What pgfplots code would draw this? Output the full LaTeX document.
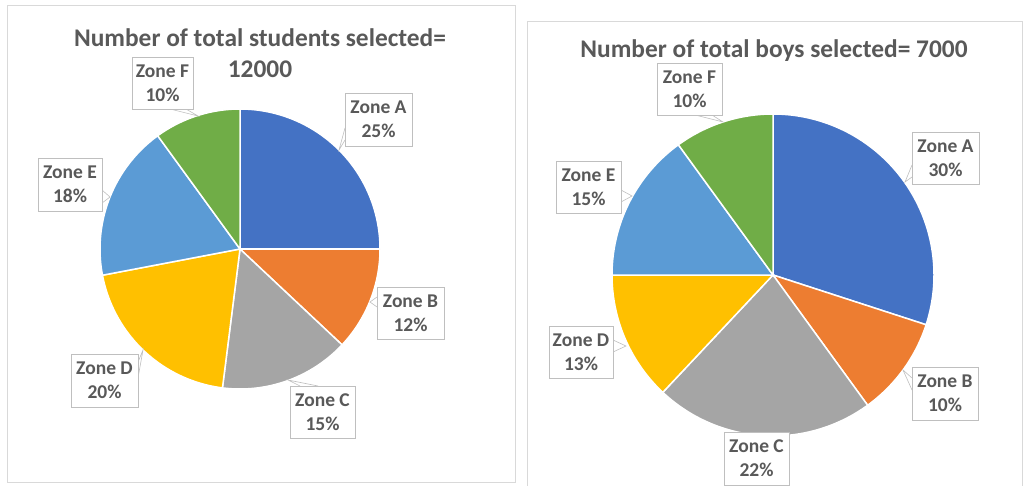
\documentclass[border=0pt]{standalone}
\usepackage{fontspec}
\setmainfont{Carlito}
\usepackage{pgfplots}
\pgfplotsset{compat=1.18}

\definecolor{zA}{HTML}{4472C4}
\definecolor{zB}{HTML}{ED7D31}
\definecolor{zC}{HTML}{A5A5A5}
\definecolor{zD}{HTML}{FFC000}
\definecolor{zE}{HTML}{5B9BD5}
\definecolor{zF}{HTML}{70AD47}
\definecolor{tc}{HTML}{595959}
\definecolor{frame}{HTML}{D9D9D9}
\definecolor{cb}{HTML}{BFBFBF}

% slice: centre x, centre y, radius, percent before, percent, colour
\newcommand{\slice}[6]{%
  \addplot[fill=#6, draw=white, line width=1.5pt, domain=90-3.6*(#4+#5):90-3.6*#4,
    samples=90, variable=\t]
    ({#1+#3*cos(\t)}, {#2-#3*sin(\t)}) -- (axis cs:#1,#2) -- cycle;}
% callout box: x1 y1 x2 y2 text
\newcommand{\lbl}[5]{%
  \draw[cb, fill=white, line width=0.8pt] (#1,#2) rectangle (#3,#4);
  \node[font=\fontsize{19.5}{24}\selectfont\bfseries, text=tc, align=center]
    at ({(#1+#3)/2},{(#2+#4)/2}) {#5};}
% callout pointer: base point, tip, base point
\newcommand{\ptr}[6]{%
  \draw[cb, fill=white, line width=0.6pt] (#1,#2) -- (#3,#4) -- (#5,#6);}

\begin{document}
\begin{tikzpicture}
\useasboundingbox (0,0) rectangle (1035pt,486pt);
\begin{axis}[
    at={(0,0)}, anchor=south west,
    width=1035pt, height=486pt, scale only axis,
    xmin=0, xmax=1035, ymin=0, ymax=486,
    y dir=reverse,
    hide axis,
]
% panels
\draw[frame, line width=0.8pt] (7,5) rectangle (515,482);
\draw[frame, line width=0.8pt] (527,21) rectangle (1022,495);

% total students = 12000
\slice{240}{249}{140}{0}{25}{zA}
\slice{240}{249}{140}{25}{12}{zB}
\slice{240}{249}{140}{37}{15}{zC}
\slice{240}{249}{140}{52}{20}{zD}
\slice{240}{249}{140}{72}{18}{zE}
\slice{240}{249}{140}{90}{10}{zF}

% total boys = 7000
\slice{773}{275}{161}{0}{30}{zA}
\slice{773}{275}{161}{30}{10}{zB}
\slice{773}{275}{161}{40}{22}{zC}
\slice{773}{275}{161}{62}{13}{zD}
\slice{773}{275}{161}{75}{15}{zE}
\slice{773}{275}{161}{90}{10}{zF}

% titles
\node[font=\fontsize{25.4}{31}\selectfont\bfseries, text=tc, align=center]
  at (260,53) {Number of total students selected=\\12000};
\node[font=\fontsize{25.4}{31}\selectfont\bfseries, text=tc]
  at (774,51) {Number of total boys selected= 7000};

% left pointers
\ptr{170}{109}{198}{116}{186}{109}
\ptr{345}{128}{339}{150}{345}{140}
\ptr{102}{190}{110}{197}{102}{203}
\ptr{377}{297}{370}{302}{377}{307}
\ptr{138}{362}{143}{350}{138}{378}
\ptr{300}{386}{288}{380}{318}{386}
% left labels
\lbl{132}{57}{193}{109}{Zone F\\10\%}
\lbl{345}{93}{412}{146}{Zone A\\25\%}
\lbl{38}{158}{102}{211}{Zone E\\18\%}
\lbl{377}{287}{444}{339}{Zone B\\12\%}
\lbl{71}{354}{138}{407}{Zone D\\20\%}
\lbl{290}{386}{355}{438}{Zone C\\15\%}

% right pointers
\ptr{695}{115}{723}{122}{712}{115}
\ptr{912}{165}{905}{182}{912}{177}
\ptr{621}{190}{632}{196}{621}{202}
\ptr{613}{340}{626}{346}{613}{352}
\ptr{912}{378}{903}{370}{912}{390}
% right labels
\lbl{657}{63}{722}{115}{Zone F\\10\%}
\lbl{912}{132}{979}{184}{Zone A\\30\%}
\lbl{556}{161}{621}{213}{Zone E\\15\%}
\lbl{549}{326}{613}{378}{Zone D\\13\%}
\lbl{912}{367}{978}{420}{Zone B\\10\%}
\lbl{724}{432}{789}{485}{Zone C\\22\%}
\end{axis}
\end{tikzpicture}
\end{document}
